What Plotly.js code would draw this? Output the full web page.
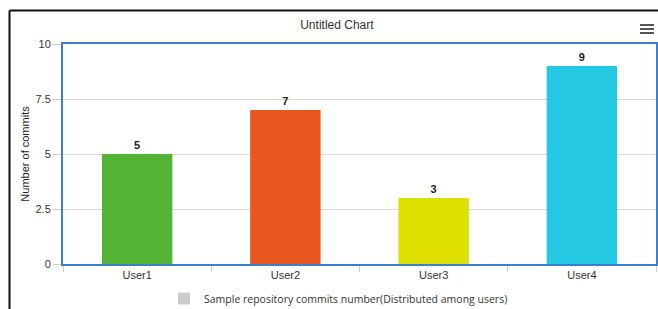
<!DOCTYPE html>
<html>
<head>
<meta charset="utf-8">
<script src="https://cdn.plot.ly/plotly-3.0.1.min.js"></script>
<style>
html,body{margin:0;padding:0;background:#fff;}
#chart{width:658px;height:309px;}
</style>
</head>
<body>
<div id="chart"></div>
<script>
const categories = ["User1", "User2", "User3", "User4"];
const commits = [5, 7, 3, 9];
const barColors = ["#52b335", "#ea561f", "#dde000", "#26c9e3"];
const seriesName = "Sample repository commits number(Distributed among users)";
const yTicks = [0, 2.5, 5, 7.5, 10];

const traces = [
  {
    type: "bar",
    x: categories,
    y: commits,
    width: 0.475,
    marker: {color: barColors},
    text: commits.map(String),
    textposition: "outside",
    cliponaxis: false,
    textfont: {family: "Liberation Sans, Arial, sans-serif", size: 11, color: "#222", weight: "bold"},
    showlegend: false,
    hoverinfo: "x+y"
  },
  {
    type: "bar",
    x: [null],
    y: [null],
    name: seriesName,
    marker: {color: "#cccccc"},
    showlegend: true
  }
];

const PW = 593, PH = 220, ML = 63, MT = 44;
const px = v => (v - ML) / PW;
const py = v => 1 + (MT - v) / PH;

const layout = {
  width: 658,
  height: 309,
  margin: {l: 63, r: 2, t: 44, b: 45, autoexpand: false},
  paper_bgcolor: "#ffffff",
  plot_bgcolor: "#ffffff",
  font: {family: "Liberation Sans, Arial, sans-serif", size: 11, color: "#333"},
  title: {
    text: "Untitled Chart",
    font: {family: "Liberation Sans, Arial, sans-serif", size: 12, color: "#333"},
    xref: "container", x: 0.512, xanchor: "center",
    yref: "container", y: 1 - 25/309, yanchor: "middle"
  },
  bargap: 0.525,
  xaxis: {
    type: "category",
    tickson: "boundaries",
    ticks: "outside",
    ticklen: 6,
    tickcolor: "#cccccc",
    showline: true,
    linecolor: "#3a7fd0",
    linewidth: 2,
    mirror: true,
    showgrid: false,
    tickfont: {size: 11, color: "#333"},
    fixedrange: true
  },
  yaxis: {
    range: [0, 10],
    tickvals: yTicks,
    ticktext: yTicks.map(String),
    ticks: "outside",
    ticklen: 8,
    tickcolor: "#cccccc",
    showline: true,
    linecolor: "#3a7fd0",
    linewidth: 2,
    mirror: true,
    showgrid: true,
    gridcolor: "#d9d9d9",
    zeroline: false,
    tickfont: {size: 11, color: "#333"},
    title: {text: "Number of commits", font: {size: 11, color: "#222"}, standoff: 4},
    fixedrange: true
  },
  showlegend: true,
  legend: {
    orientation: "h",
    xref: "container", yref: "container",
    x: 164/658, xanchor: "left",
    y: 1 - 284/309, yanchor: "top",
    font: {family: "Open Sans, sans-serif", size: 10.5, color: "#333"},
    itemwidth: 30
  },
  shapes: [
    {type: "line", xref: "paper", yref: "paper", x0: px(9.5), x1: px(9.5), y0: py(330), y1: py(10.5), line: {color: "#111", width: 2}},
    {type: "line", xref: "paper", yref: "paper", x0: px(9.5), x1: px(670), y0: py(10.5), y1: py(10.5), line: {color: "#111", width: 2}},
    {type: "line", xref: "paper", yref: "paper", x0: px(640), x1: px(654), y0: py(25), y1: py(25), line: {color: "#555", width: 2}},
    {type: "line", xref: "paper", yref: "paper", x0: px(640), x1: px(654), y0: py(29), y1: py(29), line: {color: "#555", width: 2}},
    {type: "line", xref: "paper", yref: "paper", x0: px(640), x1: px(654), y0: py(33), y1: py(33), line: {color: "#555", width: 2}}
  ]
};

Plotly.newPlot("chart", traces, layout, {displayModeBar: false});
</script>
</body>
</html>
